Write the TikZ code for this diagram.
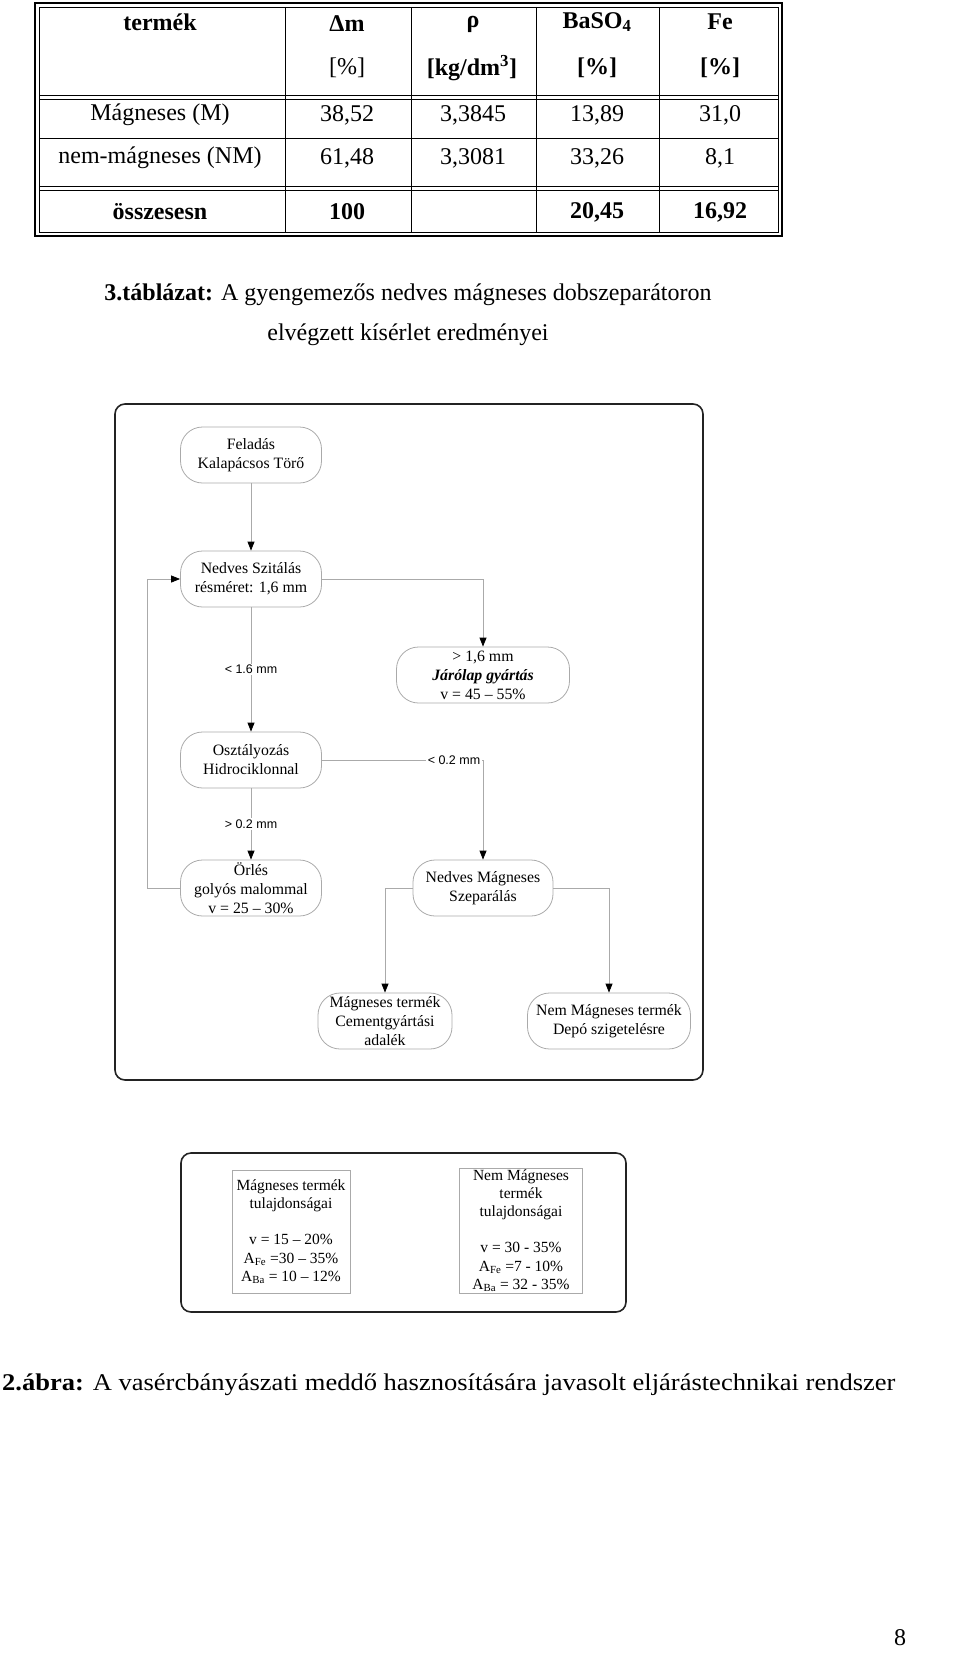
\documentclass[tikz,border=0pt]{standalone}
\usepackage{fontspec}
\setmainfont{Liberation Serif}
\newfontfamily\arialf{Liberation Sans}
\usetikzlibrary{arrows.meta}
\definecolor{boxgray}{RGB}{170,170,170}
\definecolor{framec}{RGB}{35,35,35}
\begin{document}
\begin{tikzpicture}[x=1pt,y=-1pt,
  tbl/.style={font=\fontsize{24}{28}\selectfont, inner sep=0pt, anchor=center},
  captxt/.style={font=\fontsize{24}{28}\selectfont, inner sep=0pt},
  fbox/.style={draw=boxgray, line width=0.8pt, rounded corners=22pt, minimum height=56pt, align=center, font=\fontsize{15.8}{19}\selectfont, inner sep=0pt},
  pbox/.style={draw=boxgray, line width=0.8pt, align=center, font=\fontsize{15.5}{18.2}\selectfont, inner sep=0pt},
  lab/.style={font=\arialf\fontsize{12.5}{14}\selectfont, fill=white, inner sep=1.5pt},
  flow/.style={draw=boxgray, line width=0.8pt, -{Triangle[length=9pt,width=7pt,color=black]}},
  framebox/.style={draw=framec, line width=1.6pt, rounded corners=10pt}]
\useasboundingbox (0,0) rectangle (960,1665);
% ---------------- table ----------------
\draw[line width=1.3pt] (35,3) rectangle (782,236);
\draw[line width=0.7pt] (39,7) rectangle (778,232);
\draw[line width=0.8pt] (39,95) -- (778,95) (39,99) -- (778,99);
\draw[line width=0.7pt] (39,138) -- (778,138);
\draw[line width=0.8pt] (39,186) -- (778,186) (39,190) -- (778,190);
\foreach \cx in {285,411,536,659} \draw[line width=0.7pt] (\cx,7) -- (\cx,232);
% header
\node[tbl] (h1) at (160,22) {\textbf{termék}};
\node[tbl] (h2) at (347,24) {\textbf{Δm}};
\node[tbl] (h2b) at (347,68) {[\%]};
\node[tbl] (h3) at (473,24) {\textbf{ρ}};
\node[tbl] (h3b) at (472,68) {\textbf{[kg/dm\textsuperscript{3}]}};
\node[tbl] (h4) at (597,22) {\textbf{BaSO\textsubscript{4}}};
\node[tbl] (h4b) at (597,68) {\textbf{[\%]}};
\node[tbl] (h5) at (720,22) {\textbf{Fe}};
\node[tbl] (h5b) at (720,68) {\textbf{[\%]}};
% row 1
\node[tbl] (r1a) at (160,115) {Mágneses (M)};
\node[tbl] (r1b) at (347,115) {38,52};
\node[tbl] (r1c) at (473,115) {3,3845};
\node[tbl] (r1d) at (597,115) {13,89};
\node[tbl] (r1e) at (720,115) {31,0};
% row 2
\node[tbl] (r2a) at (160,158) {nem-mágneses (NM)};
\node[tbl] (r2b) at (347,158) {61,48};
\node[tbl] (r2c) at (473,158) {3,3081};
\node[tbl] (r2d) at (597,158) {33,26};
\node[tbl] (r2e) at (720,158) {8,1};
% total
\node[tbl] (r3a) at (160,212) {\textbf{összesesn}};
\node[tbl] (r3b) at (347,212) {\textbf{100}};
\node[tbl] (r3d) at (597,212) {\textbf{20,45}};
\node[tbl] (r3e) at (720,212) {\textbf{16,92}};
% caption 1
\node[captxt] (cap1a) at (408,295) {\textbf{3.táblázat:} A gyengemezős nedves mágneses dobszeparátoron};
\node[captxt] (cap1b) at (408,335) {elvégzett kísérlet eredményei};
% ---------------- flowchart ----------------
\draw[framebox] (115,404) rectangle (703,1080);
\node[fbox, minimum width=141pt] (feladas) at (251,455) {Feladás\\Kalapácsos Törő};
\node[fbox, minimum width=141pt] (szit) at (251,579) {Nedves Szitálás\\résméret: 1,6 mm};
\node[fbox, minimum width=173pt] (jaro) at (483,675) {> 1,6 mm\\\textbf{\textit{Járólap gyártás}}\\v = 45 – 55\%};
\node[fbox, minimum width=141pt] (oszt) at (251,760) {Osztályozás\\Hidrociklonnal};
\node[fbox, minimum width=141pt] (orles) at (251,888) {Örlés\\golyós malommal\\v = 25 – 30\%};
\node[fbox, minimum width=140pt] (nms) at (483,888) {Nedves Mágneses\\Szeparálás};
\node[fbox, minimum width=134pt] (mt) at (385,1021) {Mágneses termék\\Cementgyártási\\adalék};
\node[fbox, minimum width=163pt] (nmt) at (609,1021) {Nem Mágneses termék\\Depó szigetelésre};
\coordinate (lb) at (147,888);
\draw[flow] (feladas) -- (szit);
\draw[flow] (szit.east) -| (jaro.north);
\draw[flow] (szit) -- node[lab] {< 1.6 mm} (oszt);
\draw[flow] (oszt.east) -| node[lab, pos=0.41] {< 0.2 mm} (nms.north);
\draw[flow] (oszt) -- node[lab] {> 0.2 mm} (orles);
\draw[flow] (orles.west) -- (lb) |- (szit.west);
\draw[flow] (nms.west) -| (mt.north);
\draw[flow] (nms.east) -| (nmt.north);
% ---------------- properties ----------------
\draw[framebox] (181,1153) rectangle (626,1312);
\node[pbox, minimum width=118pt, minimum height=123pt] (mprop) at (291,1231.5) {Mágneses termék\\tulajdonságai\\[18.2pt]v = 15 – 20\%\\A\textsubscript{Fe} =30 – 35\%\\A\textsubscript{Ba} = 10 – 12\%};
\node[pbox, minimum width=123pt, minimum height=125pt] (nprop) at (521,1230.5) {Nem Mágneses\\termék\\tulajdonságai\\[18.2pt]v = 30 - 35\%\\A\textsubscript{Fe} =7 - 10\%\\A\textsubscript{Ba} = 32 - 35\%};
% caption 2
\begin{scope}[shift={(2,1385)}, xscale=1.105]
\node[captxt, anchor=west, transform shape] (cap2) at (0,0) {\textbf{2.ábra:} A vasércbányászati meddő hasznosítására javasolt eljárástechnikai rendszer};
\end{scope}
\node[captxt] (pnum) at (900,1638) {8};
\end{tikzpicture}
\end{document}
